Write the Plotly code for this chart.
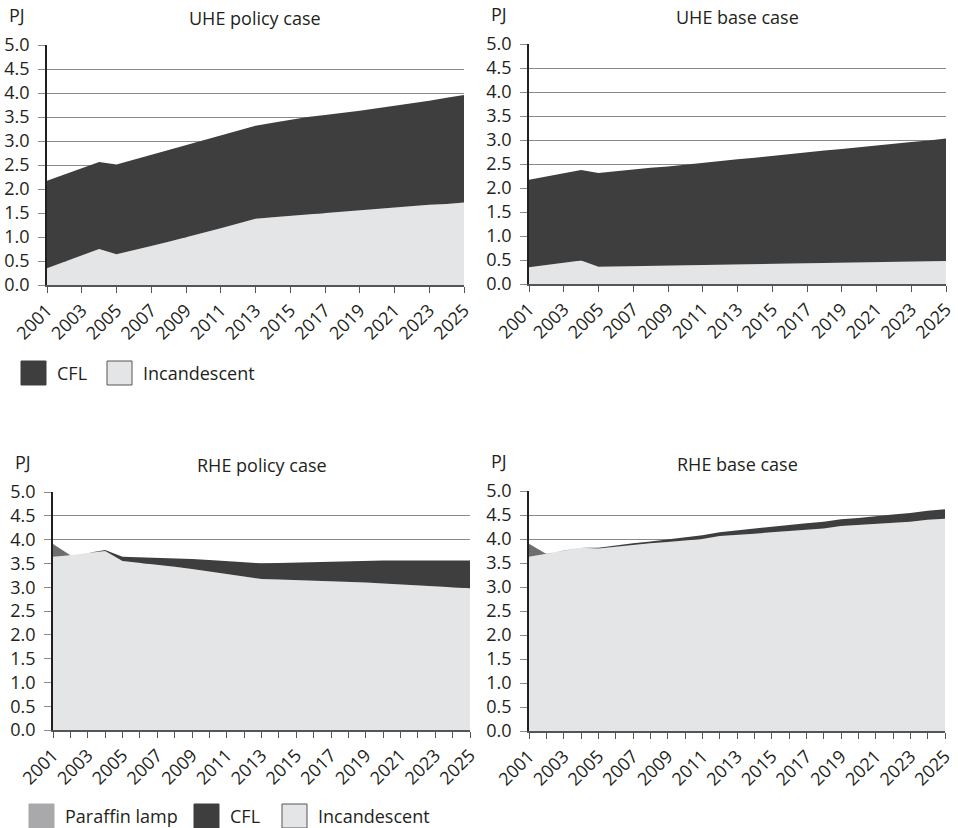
import plotly.graph_objects as go

years = list(range(2001, 2026))

# UHE policy case (PJ)
uhe_policy_incandescent = [0.35, 0.48, 0.62, 0.75, 0.64, 0.72, 0.81, 0.90, 0.99, 1.09, 1.18, 1.28, 1.38,
                           1.41, 1.44, 1.47, 1.50, 1.52, 1.55, 1.58, 1.61, 1.64, 1.67, 1.69, 1.72]
uhe_policy_cfl = [1.82, 1.82, 1.81, 1.81, 1.87, 1.89, 1.90, 1.91, 1.92, 1.92, 1.93, 1.94, 1.94,
                  1.97, 2.00, 2.03, 2.04, 2.06, 2.08, 2.10, 2.12, 2.14, 2.17, 2.21, 2.24]

# UHE base case (PJ)
uhe_base_incandescent = [0.35, 0.40, 0.445, 0.49, 0.36, 0.366, 0.372, 0.378, 0.384, 0.39, 0.396, 0.402, 0.408,
                         0.414, 0.42, 0.426, 0.432, 0.438, 0.444, 0.45, 0.456, 0.462, 0.468, 0.474, 0.48]
uhe_base_cfl = [1.82, 1.84, 1.865, 1.885, 1.95, 1.984, 2.008, 2.042, 2.066, 2.10, 2.134, 2.158, 2.192,
                2.216, 2.25, 2.284, 2.308, 2.342, 2.366, 2.40, 2.434, 2.458, 2.492, 2.516, 2.55]

# RHE policy case (PJ)
rhe_policy_incandescent = [3.64, 3.67, 3.72, 3.76, 3.55, 3.51, 3.48, 3.43, 3.38, 3.33, 3.28, 3.22, 3.17,
                           3.16, 3.15, 3.14, 3.13, 3.12, 3.10, 3.08, 3.06, 3.04, 3.02, 3.00, 2.98]
rhe_policy_cfl = [0.00, 0.00, 0.00, 0.02, 0.09, 0.12, 0.14, 0.17, 0.21, 0.24, 0.27, 0.30, 0.33,
                  0.35, 0.37, 0.39, 0.41, 0.43, 0.46, 0.48, 0.50, 0.52, 0.54, 0.56, 0.58]
rhe_policy_paraffin = [0.27] + [0.0] * 24

# RHE base case (PJ)
rhe_base_incandescent = [3.63, 3.69, 3.76, 3.82, 3.80, 3.84, 3.87, 3.91, 3.94, 3.97, 4.00, 4.06, 4.08,
                         4.11, 4.14, 4.17, 4.20, 4.22, 4.27, 4.29, 4.32, 4.34, 4.36, 4.40, 4.42]
rhe_base_cfl = [0.00, 0.00, 0.00, 0.00, 0.02, 0.03, 0.04, 0.04, 0.05, 0.07, 0.08, 0.08, 0.10,
                0.11, 0.12, 0.12, 0.13, 0.14, 0.14, 0.15, 0.16, 0.17, 0.18, 0.19, 0.20]
rhe_base_paraffin = [0.27] + [0.0] * 24

panel_titles = ["UHE policy case", "UHE base case", "RHE policy case", "RHE base case"]
y_ticks = [i * 0.5 for i in range(11)]
y_tick_text = [f"{v:.1f}" for v in y_ticks]

FONT = "Open Sans"
FS = 18
INK = "#231f20"
C_INC = "#e4e5e7"
C_CFL = "#3e3e3e"
C_PAR = "#6e6e6e"
C_PAR_KEY = "#a9a9ab"

panels = [
    dict(series=[("Incandescent", uhe_policy_incandescent, C_INC), ("CFL", uhe_policy_cfl, C_CFL)],
         x=(47, 464), y=(45, 285), minor=False),
    dict(series=[("Incandescent", uhe_base_incandescent, C_INC), ("CFL", uhe_base_cfl, C_CFL)],
         x=(529, 946), y=(44, 284), minor=False),
    dict(series=[("Incandescent", rhe_policy_incandescent, C_INC), ("CFL", rhe_policy_cfl, C_CFL),
                 ("Paraffin lamp", rhe_policy_paraffin, C_PAR)],
         x=(53, 470), y=(492, 730), minor=True),
    dict(series=[("Incandescent", rhe_base_incandescent, C_INC), ("CFL", rhe_base_cfl, C_CFL),
                 ("Paraffin lamp", rhe_base_paraffin, C_PAR)],
         x=(529, 945), y=(491, 731), minor=True),
]

W, H = 958, 828
fig = go.Figure()
layout = dict(
    width=W, height=H, margin=dict(l=0, r=0, t=0, b=0, autoexpand=False),
    paper_bgcolor="white", plot_bgcolor="white", showlegend=False,
    font=dict(family=FONT, size=FS, color=INK),
)
annotations = []
shapes = []

for i, p in enumerate(panels):
    n = i + 1
    xa = "xaxis" if n == 1 else f"xaxis{n}"
    ya = "yaxis" if n == 1 else f"yaxis{n}"
    xref = "x" if n == 1 else f"x{n}"
    yref = "y" if n == 1 else f"y{n}"
    for name, vals, col in p["series"]:
        fig.add_trace(go.Scatter(
            x=years, y=vals, name=name, mode="lines", stackgroup=f"s{n}",
            line=dict(width=0, color=col), fillcolor=col,
            xaxis=xref, yaxis=yref, hoverinfo="x+y+name",
        ))
    x0, x1 = p["x"]
    y0, y1 = p["y"]
    xaxis = dict(
        domain=[x0 / W, x1 / W], anchor=yref, range=[2001, 2025], automargin=False,
        tickmode="array", tickvals=years[::2], ticktext=[str(y) for y in years[::2]],
        tickangle=-45, ticks="outside", ticklen=6, tickcolor="#555", tickwidth=1,
        showline=True, linecolor="#555", linewidth=1.5, showgrid=False, zeroline=False,
        tickfont=dict(family=FONT, size=FS, color=INK),
    )
    if p["minor"]:
        xaxis["minor"] = dict(ticks="outside", ticklen=6, tickcolor="#555", dtick=1, tick0=2001)
    layout[xa] = xaxis
    layout[ya] = dict(
        domain=[1 - y1 / H, 1 - y0 / H], anchor=xref, range=[0, 5], automargin=False,
        tickmode="array", tickvals=y_ticks, ticktext=y_tick_text,
        ticks="outside", ticklen=7, tickcolor="#8a8a8a", ticklabelstandoff=5,
        showgrid=True, gridcolor="#8a8a8a", gridwidth=1,
        showline=True, linecolor=INK, linewidth=1.5, zeroline=False,
        tickfont=dict(family=FONT, size=FS, color=INK),
    )
    annotations.append(dict(
        text=panel_titles[i], x=(x0 + x1) / 2 / W, y=1 - (y0 - 27) / H,
        xref="paper", yref="paper", showarrow=False, xanchor="center", yanchor="middle",
        font=dict(family=FONT, size=FS, color=INK),
    ))
    annotations.append(dict(
        text="PJ", x=(x0 - 40) / W, y=1 - (y0 - 30) / H,
        xref="paper", yref="paper", showarrow=False, xanchor="left", yanchor="middle",
        font=dict(family=FONT, size=FS, color=INK),
    ))


def legend_row(items, y_center):
    for left, label, col in items:
        shapes.append(dict(
            type="rect", xref="paper", yref="paper",
            x0=left / W, x1=(left + 25) / W,
            y0=1 - (y_center + 12) / H, y1=1 - (y_center - 12) / H,
            fillcolor=col, line=dict(color="#555" if col == C_INC else col, width=1),
        ))
        annotations.append(dict(
            text=label, x=(left + 34) / W, y=1 - y_center / H,
            xref="paper", yref="paper", showarrow=False, xanchor="left", yanchor="middle",
            font=dict(family=FONT, size=FS, color=INK),
        ))


legend_row([(21, "CFL", C_CFL), (107, "Incandescent", C_INC)], 373)
legend_row([(29, "Paraffin lamp", C_PAR_KEY), (194, "CFL", C_CFL), (282, "Incandescent", C_INC)], 816)

layout["annotations"] = annotations
layout["shapes"] = shapes
fig.update_layout(**layout)
fig.write_html("out.html")
